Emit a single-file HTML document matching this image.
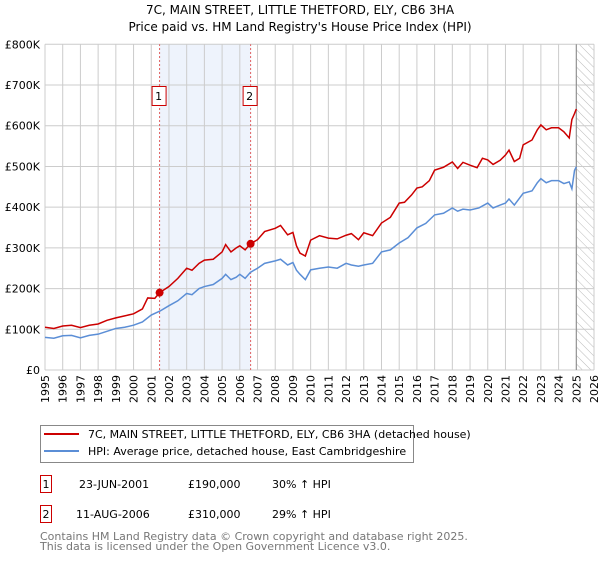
<!DOCTYPE html>
<html><head><meta charset="utf-8"><style>
body{margin:0;background:#fff;font-family:"DejaVu Sans","Liberation Sans",sans-serif;}
svg text{font-family:"DejaVu Sans","Liberation Sans",sans-serif;}
</style></head><body>
<svg id="chart" width="600" height="560" xmlns="http://www.w3.org/2000/svg">
<defs><pattern id="hatch" width="6" height="6" patternUnits="userSpaceOnUse" patternTransform="rotate(-45)"><line x1="0" y1="0" x2="0" y2="6" stroke="#bbb" stroke-width="1"/></pattern></defs>
<text x="300" y="14" text-anchor="middle" font-size="12">7C, MAIN STREET, LITTLE THETFORD, ELY, CB6 3HA</text>
<text x="300" y="31" text-anchor="middle" font-size="12">Price paid vs. HM Land Registry's House Price Index (HPI)</text>
<g id="plot"></g>
<g>
<rect x="40.5" y="425.5" width="373" height="37" fill="#fff" stroke="#888"/>
<line x1="44" y1="434" x2="79" y2="434" stroke="#cc0000" stroke-width="2"/>
<text x="88" y="438" font-size="11">7C, MAIN STREET, LITTLE THETFORD, ELY, CB6 3HA (detached house)</text>
<line x1="44" y1="451" x2="79" y2="451" stroke="#5b8ed6" stroke-width="2"/>
<text x="88" y="455" font-size="11">HPI: Average price, detached house, East Cambridgeshire</text>
</g>
<g font-size="11">
<rect x="40.5" y="475.5" width="11" height="17" fill="#fff" stroke="#cc0000"/>
<text x="46" y="488" text-anchor="middle">1</text>
<text x="79" y="488">23-JUN-2001</text><text x="188" y="488">£190,000</text><text x="272" y="488">30% ↑ HPI</text>
<rect x="40.5" y="505.5" width="11" height="17" fill="#fff" stroke="#cc0000"/>
<text x="46" y="518" text-anchor="middle">2</text>
<text x="76" y="518">11-AUG-2006</text><text x="188" y="518">£310,000</text><text x="272" y="518">29% ↑ HPI</text>
</g>
<text x="40" y="540" font-size="11" fill="#777">Contains HM Land Registry data © Crown copyright and database right 2025.</text>
<text x="40" y="550" font-size="11" fill="#777">This data is licensed under the Open Government Licence v3.0.</text>
</svg>
<script>
const years=[1995,1996,1997,1998,1999,2000,2001,2002,2003,2004,2005,2006,2007,2008,2009,2010,2011,2012,2013,2014,2015,2016,2017,2018,2019,2020,2021,2022,2023,2024,2025,2026];
const yTicks=[0,100000,200000,300000,400000,500000,600000,700000,800000];
const yTickLabels=["£0","£100K","£200K","£300K","£400K","£500K","£600K","£700K","£800K"];
const redT=[1995,1995.5,1996,1996.5,1997,1997.5,1998,1998.5,1999,1999.5,2000,2000.5,2000.8,2001.2,2001.47,2002,2002.5,2003,2003.3,2003.7,2004,2004.5,2005,2005.2,2005.5,2005.8,2006,2006.3,2006.6,2007,2007.4,2008,2008.3,2008.7,2009,2009.2,2009.4,2009.7,2010,2010.5,2011,2011.5,2012,2012.3,2012.7,2013,2013.5,2014,2014.5,2015,2015.3,2015.7,2016,2016.3,2016.7,2017,2017.5,2018,2018.3,2018.6,2019,2019.4,2019.7,2020,2020.3,2020.7,2021,2021.2,2021.5,2021.8,2022,2022.5,2022.8,2023,2023.3,2023.6,2024,2024.3,2024.6,2024.75,2024.9,2025];
const redV=[105,102,108,110,104,110,113,122,128,133,138,150,177,176,190,205,225,250,245,262,270,272,290,308,290,300,305,295,310,320,340,348,355,332,338,305,287,280,319,330,324,322,331,335,320,337,330,361,375,410,412,430,447,450,465,491,498,511,495,510,503,497,520,516,505,515,528,540,512,520,553,565,590,602,590,595,595,585,570,615,630,641];
const blueT=[1995,1995.5,1996,1996.5,1997,1997.5,1998,1998.5,1999,1999.5,2000,2000.5,2001,2001.5,2002,2002.5,2003,2003.3,2003.7,2004,2004.5,2005,2005.2,2005.5,2005.8,2006,2006.3,2006.6,2007,2007.4,2008,2008.3,2008.7,2009,2009.2,2009.4,2009.7,2010,2010.5,2011,2011.5,2012,2012.3,2012.7,2013,2013.5,2014,2014.5,2015,2015.5,2016,2016.5,2017,2017.5,2018,2018.3,2018.6,2019,2019.5,2020,2020.3,2020.7,2021,2021.2,2021.5,2022,2022.5,2022.8,2023,2023.3,2023.6,2024,2024.3,2024.6,2024.75,2024.9,2025];
const blueV=[80,78,84,85,79,85,88,95,102,105,110,118,135,145,158,170,188,185,200,205,210,225,235,222,228,235,225,240,250,262,268,272,258,264,245,235,222,246,250,253,250,262,258,255,258,262,290,295,312,325,349,360,381,385,398,390,395,393,398,410,398,405,410,420,405,434,440,460,470,460,465,465,458,462,445,490,499];
const sales=[{t:2001.47,v:190000,label:"1"},{t:2006.61,v:310000,label:"2"}];
const X=t=>45+(t-1995)*17.71, Y=v=>370-v*325.7/800000;
const g=document.getElementById('plot'),NS="http://www.w3.org/2000/svg";
function mk(tag,attrs,parent){const e=document.createElementNS(NS,tag);for(const k in attrs)e.setAttribute(k,attrs[k]);(parent||g).appendChild(e);return e;}
const shade=mk('rect',{x:X(sales[0].t),y:Y(800000),width:X(sales[1].t)-X(sales[0].t),height:Y(0)-Y(800000),fill:'#eef3fc'});


const hatch=mk('rect',{x:X(2025),y:Y(800000),width:X(2026)-X(2025),height:Y(0)-Y(800000),fill:'url(#hatch)'});


years.forEach(yr=>{const l=mk('line',{x1:X(yr),x2:X(yr),y1:Y(0),y2:Y(800000),stroke:'#ccc','stroke-width':1});


const t=mk('text',{x:0,y:0,'font-size':11,'text-anchor':'end',transform:`translate(${X(yr)+4},375) rotate(-90)`});t.textContent=yr;

});
yTicks.forEach((v,i)=>{const l=mk('line',{x1:X(1995),x2:X(2026),y1:Y(v),y2:Y(v),stroke:'#ccc','stroke-width':1});


const t=mk('text',{x:40,y:Y(v)+4,'font-size':11,'text-anchor':'end'});t.textContent=yTickLabels[i];

});
const nowl=mk('line',{x1:X(2025),x2:X(2025),y1:Y(0),y2:Y(800000),stroke:'#888','stroke-width':1});


sales.forEach(s=>{const l=mk('line',{x1:X(s.t),x2:X(s.t),y1:Y(0),y2:Y(800000),stroke:'#e06060','stroke-width':1,'stroke-dasharray':'2,2'});


const b=mk('rect',{x:X(s.t)-7.5,y:86.5,width:14,height:19,fill:'#fff',stroke:'#cc0000'});


const t=mk('text',{x:X(s.t)-1,y:100,'font-size':11,'text-anchor':'middle'});t.textContent=s.label;

});
const bl=mk('polyline',{points:blueT.map((t,i)=>X(t)+','+Y(blueV[i]*1000)).join(' '),fill:'none',stroke:'#5b8ed6','stroke-width':1.5});


const rl=mk('polyline',{points:redT.map((t,i)=>X(t)+','+Y(redV[i]*1000)).join(' '),fill:'none',stroke:'#cc0000','stroke-width':1.5});


sales.forEach(s=>{const c=mk('circle',{cx:X(s.t),cy:Y(s.v),r:4,fill:'#cc0000'});

});
</script>
</body></html>
